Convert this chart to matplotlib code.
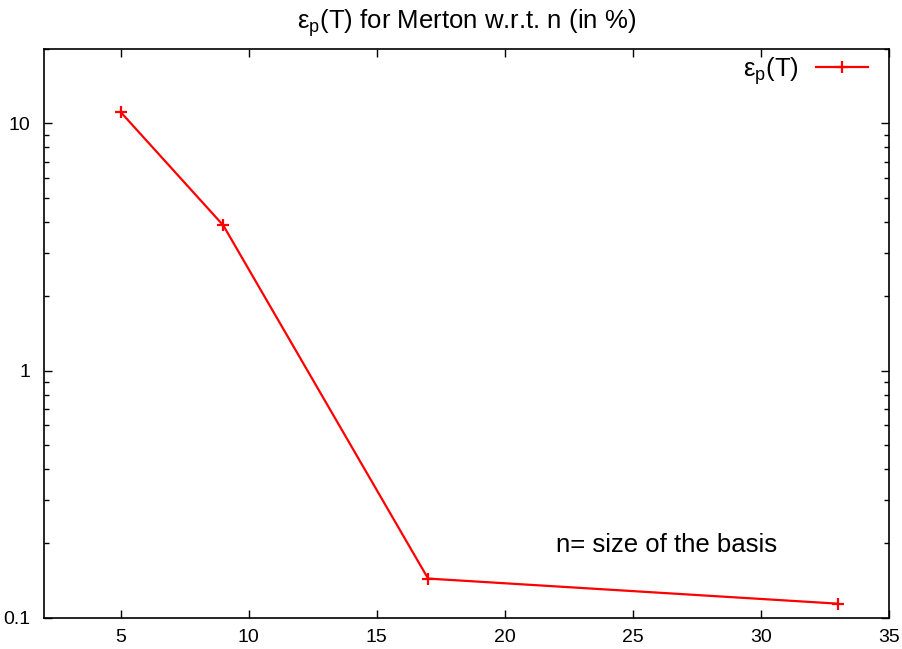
import matplotlib
matplotlib.use("Agg")
import matplotlib.pyplot as plt
import matplotlib.ticker as ticker

plt.rcParams['font.family'] = ['Liberation Sans', 'DejaVu Sans']
plt.rcParams['mathtext.fontset'] = 'custom'
plt.rcParams['mathtext.rm'] = 'Liberation Sans'

# basis size n vs error in %
n_vals = [5, 9, 17, 33]
err_vals = [11.1, 3.87, 0.144, 0.114]
x_ticks = [5, 10, 15, 20, 25, 30, 35]
y_ticks = [0.1, 1, 10]
y_labels = ['0.1', '1', '10']

fig = plt.figure(figsize=(9.03, 6.49), dpi=100)
ax = fig.add_axes([0.0487, 0.0482, 0.9358, 0.8763])

ax.plot(n_vals, err_vals, color='red', lw=1.6, marker='+', ms=8, mew=1.6,
        label='ε$_\\mathregular{p}$(T)')

ax.set_yscale('log')
ax.set_xlim(2, 35)
ax.set_ylim(0.1, 20)
ax.set_xticks(x_ticks)
ax.set_yticks(y_ticks)
ax.set_yticklabels(y_labels)
ax.yaxis.set_minor_locator(ticker.LogLocator(base=10, subs=range(2, 10)))
ax.yaxis.set_minor_formatter(ticker.NullFormatter())

ax.tick_params(which='both', direction='in', top=True, right=True,
               labelsize=14, width=1)
ax.tick_params(which='major', length=6)
ax.tick_params(which='minor', length=3.5)
ax.tick_params(axis='x', pad=8)
ax.tick_params(axis='y', pad=10)
for s in ax.spines.values():
    s.set_linewidth(1.2)

ax.set_title('ε$_\\mathregular{p}$(T) for Merton w.r.t. n (in %)', fontsize=18.5, pad=15)
ax.text(22.0, 0.197, 'n= size of the basis', fontsize=18.5, va='center', ha='left')

ax.legend(loc='upper right', bbox_to_anchor=(0.975, 0.99), frameon=False,
          markerfirst=False, fontsize=18.5, handlelength=2.0,
          borderaxespad=0.0, borderpad=0.0, handletextpad=0.7)

fig.savefig('out.png', dpi=100)
